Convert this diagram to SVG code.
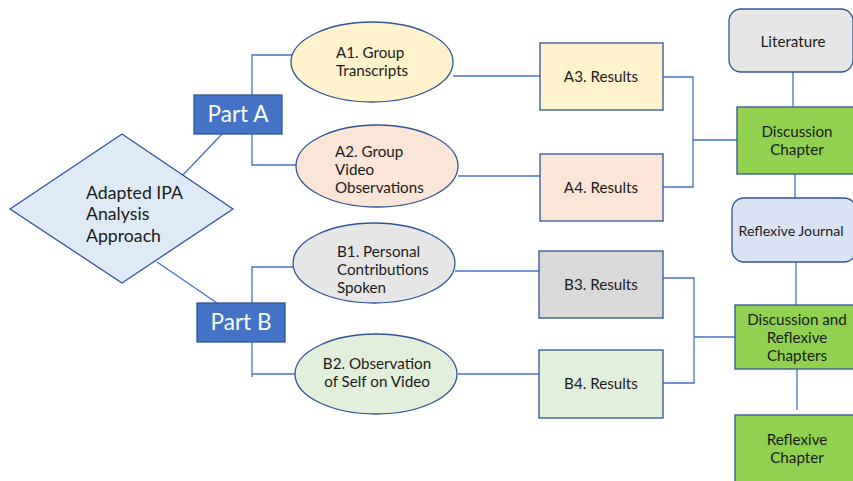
<svg xmlns="http://www.w3.org/2000/svg" width="853" height="481" viewBox="0 0 853 481">
<style>
.c{fill:none;stroke:#4472C4;stroke-width:1.3}
.o{stroke:#2F5597;stroke-width:1.3}
text{font-family:Lato,"Open Sans","Liberation Sans",sans-serif;fill:#1a1a1a}
.t{font-size:15.2px}
.m{text-anchor:middle}
.w{fill:#fff;font-size:22.5px;text-anchor:middle}
</style>
<rect width="853" height="481" fill="#fff"/>
<g id="connectors">
<line class="c" x1="181" y1="177" x2="222" y2="134"/>
<line class="c" x1="157" y1="262" x2="217" y2="303"/>
<polyline class="c" points="292,55 252,55 252,165 296,165"/>
<polyline class="c" points="293,267 252,267 252,377"/>
<line class="c" x1="252" y1="374" x2="295" y2="374"/>
<line class="c" x1="453" y1="76" x2="540" y2="76"/>
<line class="c" x1="458" y1="176" x2="540" y2="176"/>
<line class="c" x1="455" y1="271" x2="539" y2="271"/>
<line class="c" x1="458" y1="374" x2="539" y2="374"/>
<polyline class="c" points="663,77 693,77 693,187 663,187"/>
<line class="c" x1="693" y1="140" x2="737" y2="140"/>
<polyline class="c" points="663,278 694,278 694,383 663,383"/>
<line class="c" x1="694" y1="337" x2="735" y2="337"/>
<line class="c" x1="793" y1="72" x2="793" y2="108"/>
<line class="c" x1="795" y1="174" x2="795" y2="198"/>
<line class="c" x1="796" y1="262" x2="796" y2="305"/>
<line class="c" x1="797" y1="369" x2="797" y2="410"/>
</g>
<g id="approach">
<polygon class="o" points="10,209 122,134 233,209 122,283" fill="#DEEBF7"/>
<text x="86" y="199" font-size="17.7">Adapted IPA</text>
<text x="86" y="220" font-size="17.7">Analysis</text>
<text x="86" y="242" font-size="17.7">Approach</text>
</g>
<g id="partA">
<rect class="o" x="194" y="95" width="88" height="39" fill="#4472C4"/>
<text class="w" x="238" y="122">Part A</text>
</g>
<g id="partB">
<rect class="o" x="197" y="303" width="88" height="39" fill="#4472C4"/>
<text class="w" x="241" y="330">Part B</text>
</g>
<g id="A1">
<ellipse class="o" cx="372" cy="62" rx="81" ry="40" fill="#FFF2CC"/>
<text class="t" x="336" y="58">A1. Group</text>
<text class="t" x="336" y="76">Transcripts</text>
</g>
<g id="A2">
<ellipse class="o" cx="377" cy="166" rx="81" ry="41" fill="#FBE5D6"/>
<text class="t" x="335" y="157">A2. Group</text>
<text class="t" x="335" y="175">Video</text>
<text class="t" x="335" y="193">Observations</text>
</g>
<g id="B1">
<ellipse class="o" cx="374" cy="263" rx="81" ry="40" fill="#E7E6E6"/>
<text class="t" x="337" y="257">B1. Personal</text>
<text class="t" x="337" y="275">Contributions</text>
<text class="t" x="337" y="293">Spoken</text>
</g>
<g id="B2">
<ellipse class="o" cx="376" cy="374" rx="81" ry="40" fill="#E2EFDA"/>
<text class="t m" x="377" y="369">B2. Observation</text>
<text class="t m" x="377" y="387">of Self on Video</text>
</g>
<g id="A3">
<rect class="o" x="540" y="43" width="123" height="67" fill="#FFF2CC"/>
<text class="t m" x="601" y="82">A3. Results</text>
</g>
<g id="A4">
<rect class="o" x="540" y="154" width="123" height="67" fill="#FBE5D6"/>
<text class="t m" x="601" y="193">A4. Results</text>
</g>
<g id="B3">
<rect class="o" x="539" y="251" width="124" height="67" fill="#D9D9D9"/>
<text class="t m" x="601" y="290">B3. Results</text>
</g>
<g id="B4">
<rect class="o" x="539" y="350" width="124" height="68" fill="#E2EFDA"/>
<text class="t m" x="601" y="389">B4. Results</text>
</g>
<g id="literature">
<rect class="o" x="729" y="9" width="124" height="63" rx="12" fill="#E7E6E6"/>
<text class="t m" x="793" y="47">Literature</text>
</g>
<g id="discussion">
<rect class="o" x="737" y="107" width="118" height="67" fill="#92D050"/>
<text class="t m" x="797" y="137">Discussion</text>
<text class="t m" x="797" y="155">Chapter</text>
</g>
<g id="journal">
<rect class="o" x="732" y="198" width="124" height="64" rx="12" fill="#DAE3F3"/>
<text class="m" x="791" y="236" font-size="14.2">Reflexive Journal</text>
</g>
<g id="discReflex">
<rect class="o" x="735" y="305" width="120" height="64" fill="#92D050"/>
<text class="t m" x="797" y="325">Discussion and</text>
<text class="t m" x="797" y="343">Reflexive</text>
<text class="t m" x="797" y="361">Chapters</text>
</g>
<g id="reflexChapter">
<rect class="o" x="735" y="415" width="120" height="70" fill="#92D050"/>
<text class="t m" x="797" y="445">Reflexive</text>
<text class="t m" x="797" y="463">Chapter</text>
</g>
</svg>
